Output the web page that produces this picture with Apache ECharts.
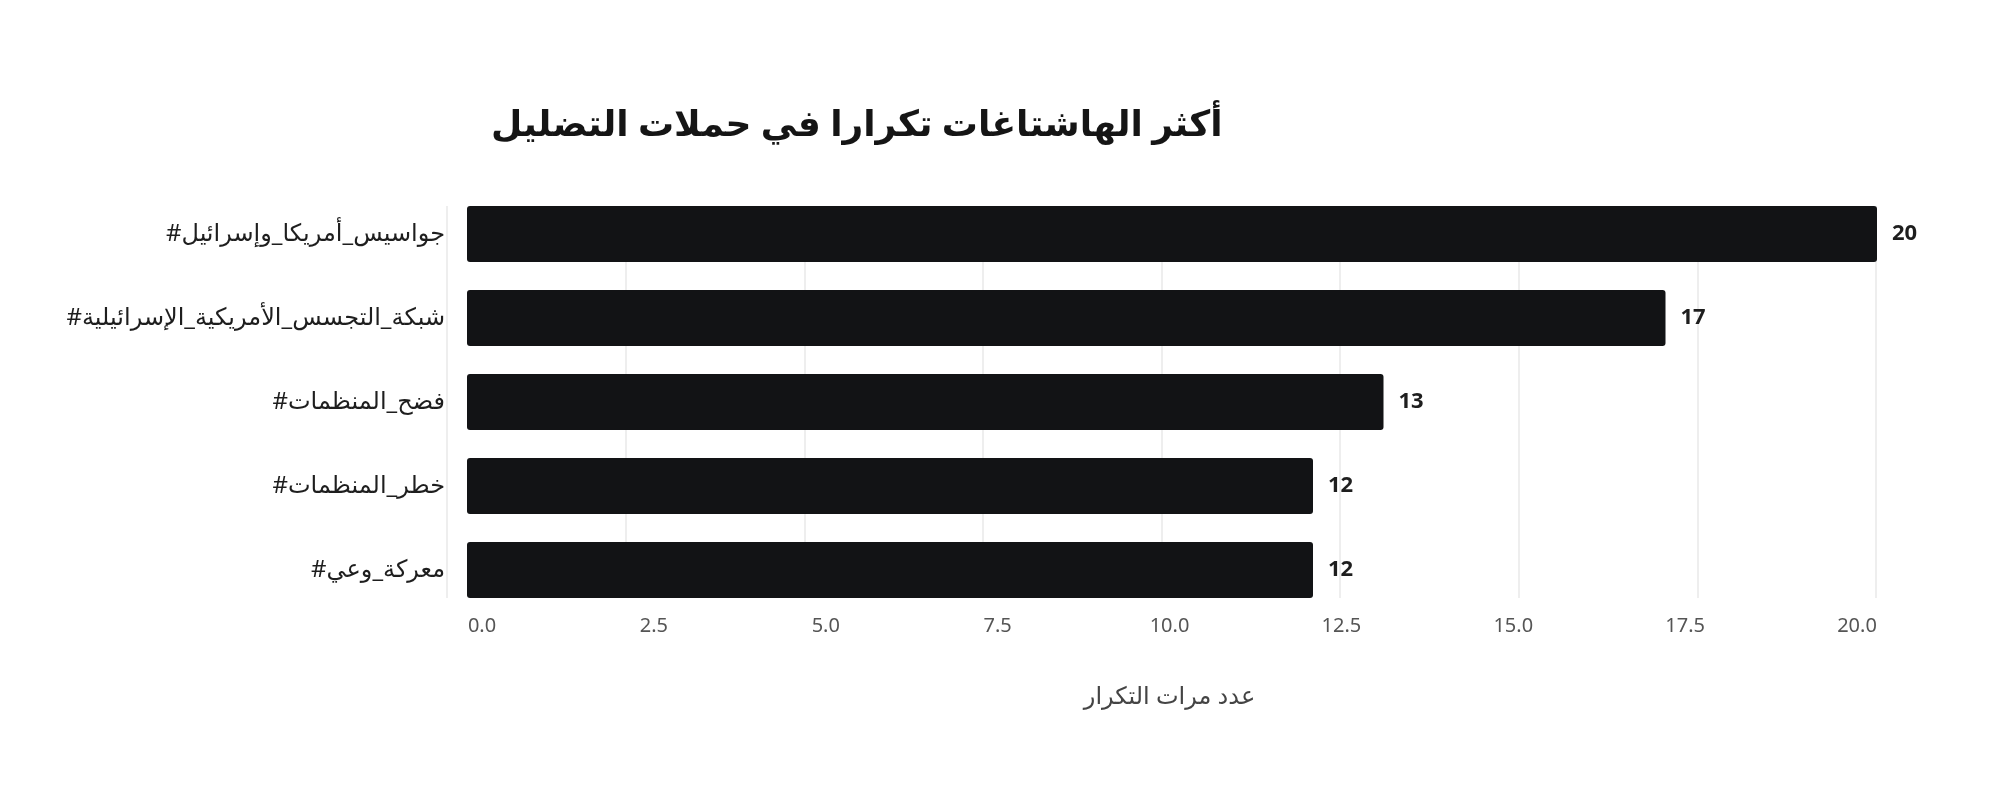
<!DOCTYPE html>
<html><head><meta charset="utf-8">
<script src="https://cdn.jsdelivr.net/npm/echarts@6/dist/echarts.min.js"></script>
<style>html,body{margin:0;padding:0;background:#fff}#c{width:1990px;height:788px}</style>
</head><body><div id="c"></div>
<script>
const titleText = 'أكثر الهاشتاغات تكرارا في حملات التضليل';
const axisName = 'عدد مرات التكرار';
const categories = ['#جواسيس_أمريكا_وإسرائيل', '#شبكة_التجسس_الأمريكية_الإسرائيلية', '#فضح_المنظمات', '#خطر_المنظمات', '#معركة_وعي'];
const counts = [20, 17, 13, 12, 12];
const xTicks = {min: 0, max: 20, interval: 2.5};

const FONT = "'Noto Sans', 'DejaVu Sans', sans-serif";
const hidden = {axisLine: {show: false}, axisTick: {show: false}, axisLabel: {show: false}, splitLine: {show: false}};
const chart = echarts.init(document.getElementById('c'));
chart.setOption({
  backgroundColor: '#ffffff',
  animation: false,
  title: {
    text: titleText, left: 486, top: 103,
    textStyle: {fontFamily: FONT, fontSize: 36, fontWeight: 'bold', color: '#151515'}
  },
  grid: [
    {left: 467, right: 113, top: 192, bottom: 176},   // bars
    {left: 447, right: 114, top: 206, bottom: 190},   // grid lines
    {left: 482, right: 133, top: 206, bottom: 190}    // tick labels
  ],
  xAxis: [
    Object.assign({type: 'value', gridIndex: 0, min: xTicks.min, max: xTicks.max, interval: xTicks.interval}, hidden),
    {type: 'value', gridIndex: 1, min: xTicks.min, max: xTicks.max, interval: xTicks.interval,
      axisLine: {show: false}, axisTick: {show: false}, axisLabel: {show: false},
      splitLine: {show: true, lineStyle: {color: '#e8e8e8', width: 1.5}}},
    {type: 'value', gridIndex: 2, min: xTicks.min, max: xTicks.max, interval: xTicks.interval,
      name: axisName, nameLocation: 'middle', nameGap: 87,
      nameTextStyle: {fontFamily: FONT, fontSize: 24, color: '#444'},
      axisLine: {show: false}, axisTick: {show: false}, splitLine: {show: false},
      axisLabel: {fontFamily: FONT, fontSize: 20, color: '#555', margin: 18,
        formatter: v => v.toFixed(1)}}
  ],
  yAxis: [
    {type: 'category', gridIndex: 0, data: categories, inverse: true,
      axisLine: {show: false}, axisTick: {show: false}, splitLine: {show: false},
      axisLabel: {fontFamily: FONT, fontSize: 24, color: '#1e1e1e', margin: 22}},
    Object.assign({type: 'category', gridIndex: 1, data: categories}, hidden),
    Object.assign({type: 'category', gridIndex: 2, data: categories}, hidden)
  ],
  series: [{
    type: 'bar', xAxisIndex: 0, yAxisIndex: 0, data: counts, barWidth: 56,
    itemStyle: {color: '#121315', borderRadius: 3},
    label: {show: true, position: 'right', distance: 15,
      fontFamily: FONT, fontSize: 22, fontWeight: 'bold', color: '#1e1e1e'}
  }]
});
</script></body></html>
